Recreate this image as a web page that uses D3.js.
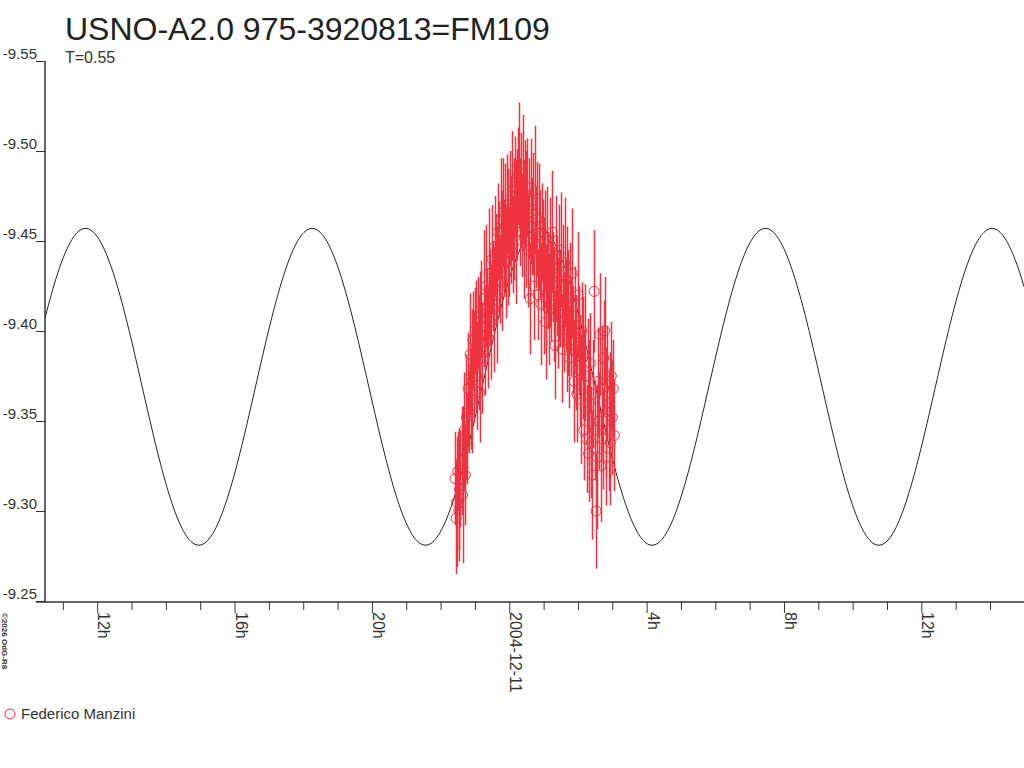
<!DOCTYPE html>
<html>
<head>
<meta charset="UTF-8">
<title>USNO-A2.0 975-3920813=FM109</title>
<script src="https://d3js.org/d3.v7.min.js"></script>
<style>
    body { margin: 0; background: #fff; }
    svg { display: block; font-family: 'Liberation Sans', Arial, sans-serif; }
    .axis path, .axis line { stroke: #333; }
    .axis text { fill: #333; }
</style>
</head>
<body>
<div id="chart"></div>
<script>
    // observations: hours from 2004-12-11 00:00 UT, magnitude, error
    const obsHours = [-1.58,-1.55,-1.53,-1.50,-1.47,-1.45,-1.42,-1.39,-1.36,-1.34,-1.31,-1.28,-1.25,-1.22,-1.20,-1.17,-1.14,-1.11,-1.09,-1.06,
        -1.03,-1.00,-0.97,-0.95,-0.92,-0.89,-0.86,-0.84,-0.81,-0.78,-0.75,-0.72,-0.70,-0.67,-0.64,-0.61,-0.59,-0.56,-0.53,-0.50,
        -0.47,-0.45,-0.42,-0.39,-0.36,-0.34,-0.31,-0.28,-0.25,-0.22,-0.20,-0.17,-0.14,-0.11,-0.09,-0.06,-0.03,0.00,0.03,0.06,
        0.08,0.11,0.14,0.17,0.19,0.22,0.25,0.28,0.31,0.33,0.36,0.39,0.42,0.44,0.47,0.50,0.53,0.56,0.58,0.61,
        0.64,0.67,0.69,0.72,0.75,0.78,0.81,0.83,0.86,0.89,0.92,0.94,0.97,1.00,1.03,1.06,1.08,1.11,1.14,1.17,
        1.19,1.22,1.25,1.28,1.31,1.33,1.36,1.39,1.42,1.44,1.47,1.50,1.53,1.56,1.58,1.61,1.64,1.67,1.69,1.72,
        1.75,1.78,1.81,1.83,1.86,1.89,1.92,1.94,1.97,2.00,2.03,2.06,2.08,2.11,2.14,2.17,2.19,2.22,2.25,2.28,
        2.31,2.33,2.36,2.39,2.42,2.44,2.47,2.50,2.53,2.56,2.58,2.61,2.64,2.67,2.69,2.72,2.75,2.78,2.81,2.83,
        2.86,2.89,2.92,2.94,2.97,3.00,3.03,3.06];
    const obsMag = [-9.318,-9.296,-9.305,-9.322,-9.300,-9.312,-9.318,-9.328,-9.309,-9.334,-9.345,-9.320,-9.352,-9.340,-9.368,-9.355,-9.387,-9.362,-9.372,-9.395,
        -9.380,-9.400,-9.392,-9.375,-9.405,-9.388,-9.366,-9.398,-9.412,-9.385,-9.418,-9.402,-9.394,-9.425,-9.410,-9.396,-9.432,-9.418,-9.405,-9.440,
        -9.425,-9.412,-9.447,-9.434,-9.420,-9.455,-9.440,-9.428,-9.462,-9.450,-9.436,-9.466,-9.446,-9.458,-9.438,-9.470,-9.452,-9.444,-9.468,-9.456,
        -9.475,-9.448,-9.462,-9.480,-9.455,-9.470,-9.486,-9.492,-9.466,-9.478,-9.458,-9.484,-9.470,-9.452,-9.476,-9.462,-9.480,-9.445,-9.468,-9.418,
        -9.472,-9.458,-9.465,-9.425,-9.478,-9.452,-9.462,-9.420,-9.458,-9.448,-9.415,-9.455,-9.442,-9.425,-9.450,-9.405,-9.418,-9.445,-9.428,-9.412,
        -9.438,-9.422,-9.455,-9.430,-9.415,-9.392,-9.440,-9.425,-9.410,-9.432,-9.418,-9.445,-9.390,-9.425,-9.405,-9.438,-9.415,-9.398,-9.428,-9.410,
        -9.385,-9.418,-9.402,-9.432,-9.395,-9.372,-9.408,-9.388,-9.365,-9.420,-9.395,-9.378,-9.362,-9.400,-9.385,-9.345,-9.370,-9.388,-9.340,-9.375,
        -9.332,-9.360,-9.382,-9.338,-9.320,-9.365,-9.422,-9.345,-9.300,-9.330,-9.372,-9.350,-9.398,-9.325,-9.368,-9.340,-9.385,-9.400,-9.355,-9.330,
        -9.372,-9.345,-9.360,-9.338,-9.375,-9.352,-9.368,-9.342];
    const obsErr = [0.026,0.031,0.036,0.022,0.028,0.034,0.027,0.030,0.038,0.024,0.032,0.028,0.035,0.025,0.031,0.023,0.034,0.028,0.040,0.027,
        0.031,0.024,0.036,0.030,0.025,0.032,0.028,0.035,0.027,0.031,0.038,0.023,0.030,0.034,0.025,0.028,0.036,0.027,0.032,0.030,
        0.025,0.035,0.028,0.031,0.038,0.027,0.032,0.024,0.034,0.028,0.036,0.030,0.027,0.035,0.031,0.028,0.038,0.025,0.032,0.030,
        0.036,0.027,0.034,0.028,0.040,0.031,0.027,0.035,0.030,0.032,0.028,0.036,0.025,0.034,0.030,0.038,0.027,0.032,0.028,0.031,
        0.035,0.027,0.034,0.030,0.036,0.028,0.032,0.025,0.035,0.030,0.034,0.027,0.031,0.038,0.028,0.032,0.030,0.035,0.027,0.031,
        0.036,0.028,0.034,0.025,0.032,0.030,0.035,0.028,0.031,0.038,0.027,0.032,0.030,0.034,0.028,0.036,0.025,0.032,0.030,0.035,
        0.028,0.031,0.027,0.036,0.030,0.034,0.028,0.032,0.027,0.035,0.030,0.031,0.036,0.027,0.034,0.028,0.031,0.038,0.030,0.032,
        0.027,0.035,0.028,0.031,0.036,0.030,0.034,0.028,0.032,0.040,0.030,0.027,0.034,0.031,0.035,0.028,0.032,0.030,0.036,0.027,
        0.031,0.034,0.028,0.035,0.030,0.032,0.027,0.031];

    // fitted light curve (T = rotation period in days, double-peaked)
    const fitPeriodDays = 0.55;
    const fitMean = -9.369;
    const fitAmplitude = 0.088;
    const fitPeakHour = 0.86;

    const xDomainHours = [-13.52, 14.99];
    const yTicks = [-9.55, -9.50, -9.45, -9.40, -9.35, -9.30, -9.25];
    const observer = "Federico Manzini";
    const title = "USNO-A2.0 975-3920813=FM109";
    const subtitle = "T=0.55";

    const width = 1024, height = 768;
    const plotLeft = 45, plotRight = 1024, plotTop = 61, plotBottom = 601;
    const red = "#ee3340";
    const epoch = Date.UTC(2004, 11, 11);
    const hourDate = h => new Date(epoch + h * 3600e3);

    const svg = d3.select("#chart").append("svg")
        .attr("width", width)
        .attr("height", height);

    const x = d3.scaleUtc()
        .domain(xDomainHours.map(hourDate))
        .range([plotLeft, plotRight]);

    const y = d3.scaleLinear()
        .domain([-9.55, -9.25])
        .range([plotTop, plotBottom]);

    // fit curve, one sample per pixel
    const fitValue = d => {
        const h = (d - epoch) / 3600e3;
        return fitMean - fitAmplitude * Math.cos(2 * Math.PI * 2 * (h - fitPeakHour) / (fitPeriodDays * 24));
    };
    const fitDates = d3.range(plotLeft, plotRight + 1, 1).map(px => x.invert(px));
    svg.append("path")
        .datum(fitDates)
        .attr("fill", "none")
        .attr("stroke", "#222")
        .attr("stroke-width", 1)
        .attr("d", d3.line().x(d => x(d)).y(d => y(fitValue(d))));

    // observations
    const obs = obsHours.map((h, i) => ({ t: hourDate(h), mag: obsMag[i], err: obsErr[i] }));
    svg.append("g").selectAll("line")
        .data(obs)
        .join("line")
        .attr("x1", d => Math.round(x(d.t)) + 0.5)
        .attr("x2", d => Math.round(x(d.t)) + 0.5)
        .attr("y1", d => y(d.mag - d.err))
        .attr("y2", d => y(d.mag + d.err))
        .attr("stroke", red)
        .attr("stroke-width", 1.5);
    svg.append("g").selectAll("circle")
        .data(obs)
        .join("circle")
        .attr("cx", d => x(d.t))
        .attr("cy", d => y(d.mag))
        .attr("r", 5)
        .attr("fill", "none")
        .attr("stroke", red)
        .attr("stroke-width", 1);

    // x axis
    const xAxis = svg.append("g")
        .attr("class", "axis")
        .attr("transform", `translate(0,${plotBottom + 1})`)
        .call(d3.axisBottom(x).ticks(d3.utcHour.every(1)).tickSize(8).tickFormat(""));
    xAxis.select(".domain").attr("d", `M36,0H${plotRight}`).attr("stroke-width", 1.5);
    xAxis.selectAll(".tick line")
        .attr("y2", d => d.getUTCHours() % 4 === 0 ? 11 : 8);

    const majors = x.ticks(d3.utcHour.every(4));
    svg.append("g").selectAll("text")
        .data(majors)
        .join("text")
        .attr("transform", d => `translate(${x(d) + 1},${plotBottom + 11}) rotate(90)`)
        .attr("font-size", 16)
        .attr("fill", "#333")
        .text(d => d.getUTCHours() === 0 ? d3.utcFormat("%Y-%m-%d")(d) : d.getUTCHours() + "h");

    // y axis
    const yAxis = svg.append("g")
        .attr("class", "axis")
        .attr("transform", `translate(${plotLeft},0)`)
        .call(d3.axisLeft(y).tickValues(yTicks).tickSize(9).tickFormat(d => d.toFixed(2)));
    yAxis.select(".domain").attr("d", `M0,${plotTop}V${plotBottom + 1}`).attr("stroke-width", 1.5);
    yAxis.selectAll(".tick text")
        .attr("x", -8)
        .attr("dy", "-0.15em")
        .attr("font-size", 15)
        .attr("font-family", "'Liberation Sans', Arial, sans-serif");

    // titles
    svg.append("text")
        .attr("x", 65).attr("y", 40)
        .attr("font-size", 32)
        .attr("fill", "#222")
        .text(title);
    svg.append("text")
        .attr("x", 65).attr("y", 63)
        .attr("font-size", 16)
        .attr("fill", "#333")
        .text(subtitle);

    // credit
    svg.append("text")
        .attr("transform", "translate(2,613) rotate(90)")
        .attr("font-size", 8)
        .attr("font-weight", "bold")
        .attr("fill", "#333")
        .text("©2026 OdG-R8");

    // legend
    svg.append("circle")
        .attr("cx", 10).attr("cy", 714).attr("r", 5)
        .attr("fill", "none").attr("stroke", red);
    svg.append("text")
        .attr("x", 21).attr("y", 719)
        .attr("font-size", 15)
        .attr("fill", "#333")
        .text(observer);
</script>
</body>
</html>
